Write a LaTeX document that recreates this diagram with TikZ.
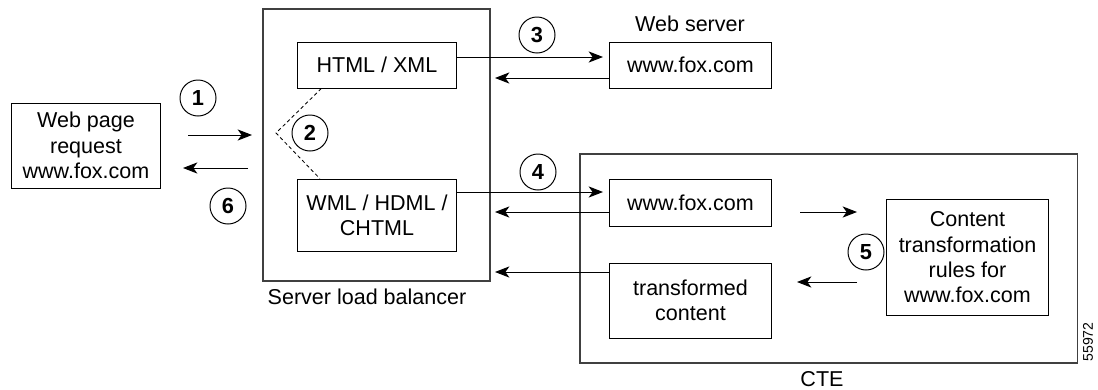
\documentclass[tikz,border=0pt]{standalone}
\usepackage{fontspec}
\setmainfont{Liberation Sans}
\usepackage{tikz}
\usetikzlibrary{calc,positioning,arrows.meta}

\tikzset{
  box/.style={draw,line width=0.7pt,align=center,inner sep=0pt,
    font=\fontsize{15.3}{18}\selectfont},
  frame/.style={draw=black!75,line width=0.8pt,inner sep=0pt},
  num/.style={draw,circle,line width=0.7pt,minimum size=0.9cm,inner sep=0pt,
    font=\fontsize{15.5}{18}\selectfont\bfseries},
  lab/.style={font=\fontsize{15.3}{18}\selectfont},
  arr/.style={line width=0.7pt,-{Stealth[length=3.6mm,width=2.8mm,inset=1mm]}}
}

\begin{document}
\begin{tikzpicture}[x=0.025cm,y=-0.025cm]
\useasboundingbox (0,0) rectangle (1098,389);

% outer frames
\node[frame,minimum width=5.675cm,minimum height=6.8cm] (slb) at (376.5,145) {};
\node[frame,minimum width=12.425cm,minimum height=5.225cm] (cte) at (828.5,258.5) {};
\node[lab] (slblab) at (367,297) {Server load balancer};
\node[lab] (ctelab) at (822,379) {CTE};
\node[lab] (weblab) at (690,24) {Web server};

% boxes
\node[box,minimum width=3.7cm,minimum height=2.125cm] (req) at (86,145.5) {Web page\\request\\www.fox.com};
\node[box,minimum width=3.95cm,minimum height=1.15cm] (html) at (377,65) {HTML / XML};
\node[box,minimum width=3.95cm,minimum height=1.8cm] (wml) at (377,215) {WML / HDML /\\CHTML};
\node[box,minimum width=4.025cm,minimum height=1.15cm] (web) at (690.5,65) {www.fox.com};
\node[box,minimum width=4.025cm,minimum height=1.175cm] (fox) at (690.5,202.5) {www.fox.com};
\node[box,minimum width=4.025cm,minimum height=1.875cm] (trans) at (690.5,300.5) {transformed\\content};
\node[box,minimum width=4.025cm,minimum height=2.875cm] (rules) at (967.5,257.5) {Content\\transformation\\rules for\\www.fox.com};

% step numbers
\node[num] (n1) at (198,98) {1};
\node[num] (n2) at (310,133) {2};
\node[num] (n3) at (537,35) {3};
\node[num] (n4) at (538,172) {4};
\node[num] (n5) at (866,252) {5};
\node[num] (n6) at (228,206) {6};

\node[rotate=90,font=\fontsize{10}{12}\selectfont] (id) at (1088,342) {55972};

% free ends
\coordinate (a1s) at (188,135);
\coordinate (a1e) at (252,135);
\coordinate (a6s) at (248,168);
\coordinate (a6e) at (183,168);
\coordinate (t3) at (603,57);
\coordinate (b3) at (495,78);
\coordinate (t4) at (603,192);
\coordinate (b4) at (495,212);
\coordinate (b5) at (495,272);
\coordinate (r1s) at (800,212);
\coordinate (r1e) at (857,212);
\coordinate (r2s) at (857,282);
\coordinate (r2e) at (797,282);
\coordinate (tip) at (276,133);

\draw[arr] (a1s) -- (a1e);
\draw[arr] (a6s) -- (a6e);
\draw[arr] (html.east |- t3) -- (t3);
\draw[arr] (web.west |- b3) -- (b3);
\draw[arr] (wml.east |- t4) -- (t4);
\draw[arr] (fox.west |- b4) -- (b4);
\draw[arr] (trans.west |- b5) -- (b5);
\draw[arr] (r1s) -- (r1e);
\draw[arr] (r2s) -- (r2e);

\draw[line width=0.6pt,dash pattern=on 2.5pt off 2pt]
  ($(html.south west)!0.15!(html.south east)$) -- (tip)
  -- ($(wml.north west)!0.14!(wml.north east)$);
\end{tikzpicture}
\end{document}
